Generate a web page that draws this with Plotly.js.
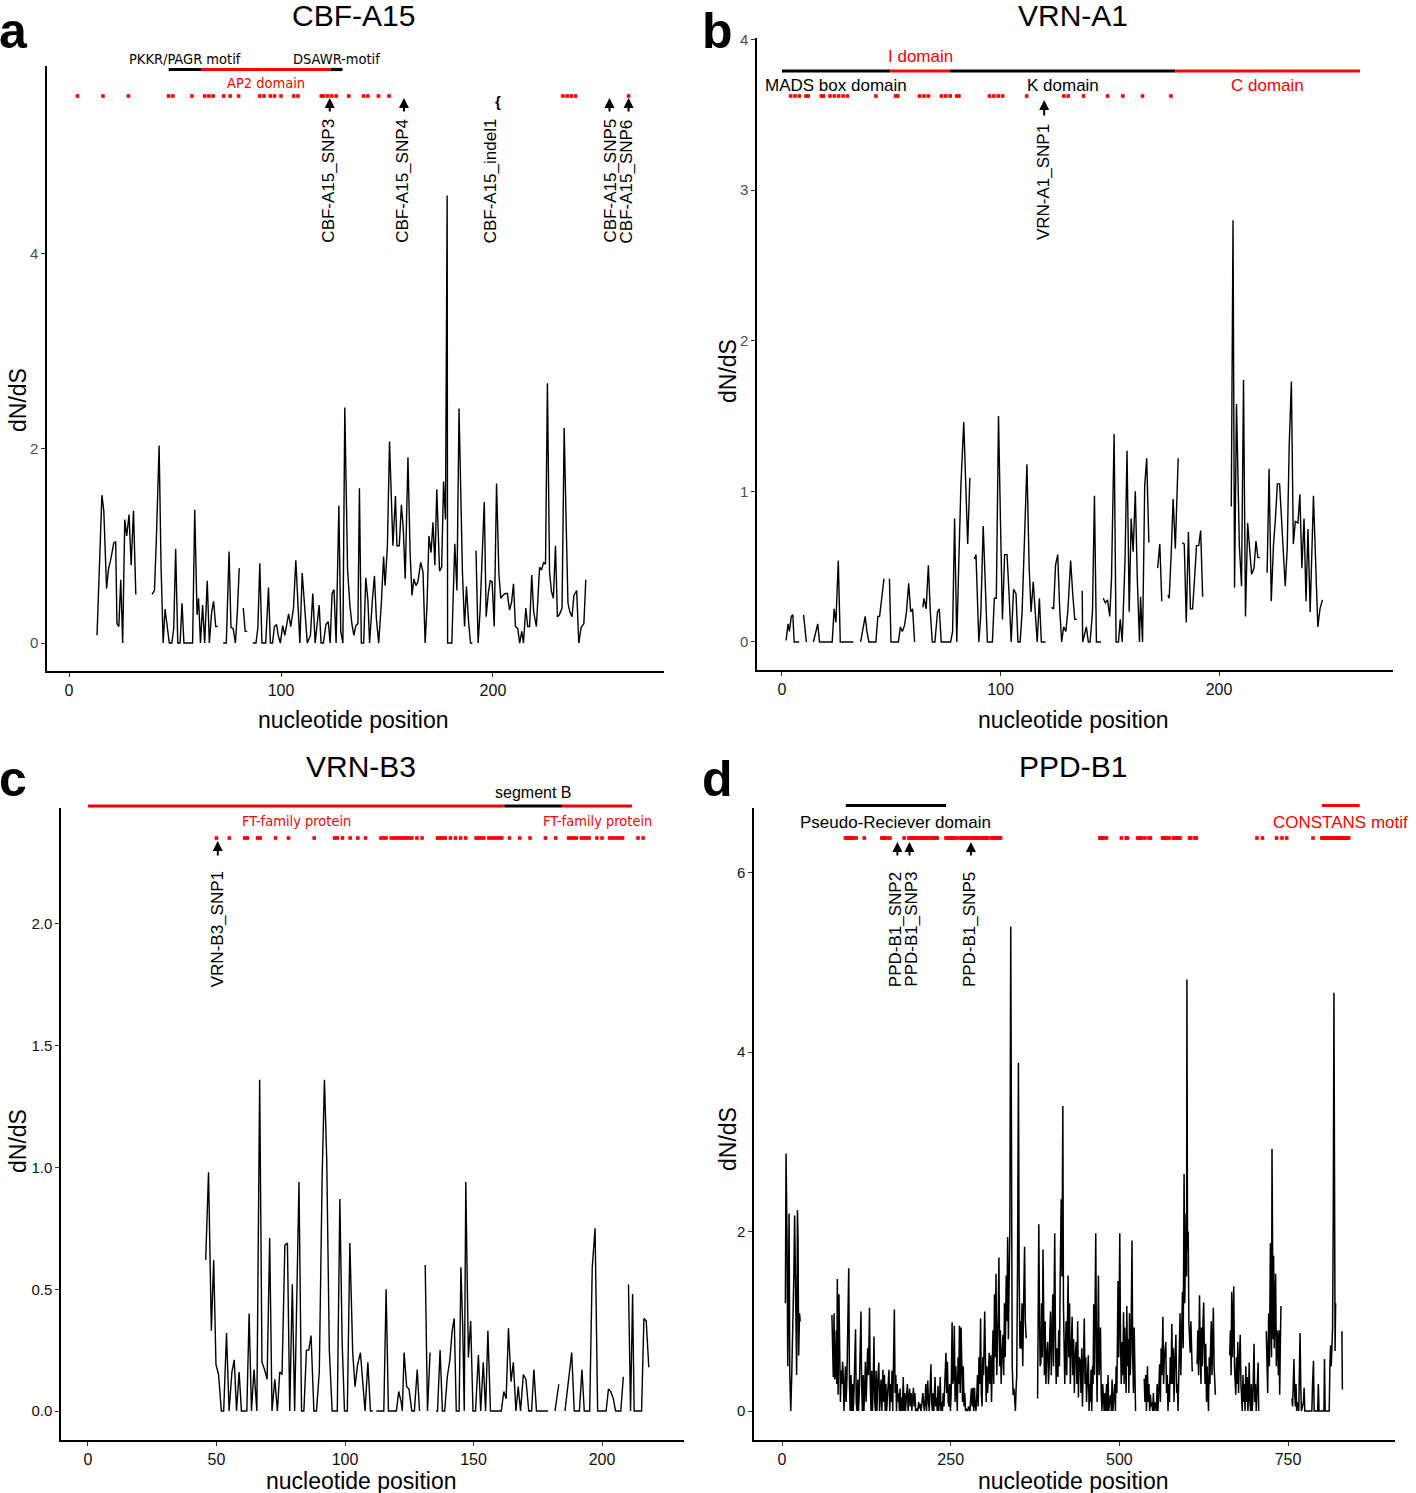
<!DOCTYPE html>
<html><head><meta charset="utf-8">
<script src="https://cdn.plot.ly/plotly-3.0.1.min.js"></script>
<style>body{margin:0;background:#fff}#chart{width:1416px;height:1493px}</style>
</head><body><div id="chart"></div>
<script>
// ---------------- DATA ----------------
// dN/dS sliding values: [nucleotide position, dN/dS]; null = gap
const cbfA15Points = [[13.2,0.08],[15.5,1.52],[16.4,1.36],[17.7,0.56],[18.6,0.76],[19.7,0.86],[21.1,1.03],[22,1.04],[22.6,0.2],[23.5,0.17],[24.4,0.65],[25.3,0],[26.3,1.27],[27.2,1.1],[28.3,1.32],[29.3,0.8],[30.4,1.36],[31.5,0.5],null,
[39.1,0.5],[40.3,0.54],[41.2,1.07],[42.5,2.03],[43.4,0.8],[44.4,0],[45.3,0.35],[46.2,0.19],[47.3,0],[48.5,0],[49.4,0.15],[50.3,0.97],[51.3,0],[52.4,0],[53.3,0.41],[54.2,0],[56,0],[58.3,0],[59.3,1.37],[60.4,0.29],[61.1,0.46],[62,0],[63,0.39],[64,0],[65.2,0.64],[66.2,0],[67.3,0.32],[68.2,0.43],[69.2,0.17],[70.1,0.17],null,
[72.7,0],[74.2,0],[75.5,0.94],[76.4,0.16],[77.4,0.15],[78.5,0],[79.4,0.32],[80.3,0.77],null,[82.2,0.36],[83.1,0.12],[84.1,0.12],null,
[86.7,0],[88.2,0],[89.1,0.16],[90,0.82],[91,0],[92.8,0],[94.1,0.57],[95,0],[96,0],[96.9,0.17],[97.9,0.19],[98.8,0.07],[99.7,0],[100.8,0.18],[101.8,0.08],[102.7,0.2],[103.6,0.3],[104.6,0.17],[105.9,0.36],[107,0.85],[107.7,0.49],[108.9,0],[110,0.72],[111,0.39],[112.4,0],[113.9,0.08],[115,0.51],[116.1,0],[117,0.19],[118,0.39],[118.9,0],[120,0],[121.2,0.19],[122.3,0.22],[123.2,0],[124.1,0.51],[125,0.55],[126,0],[127.3,1.41],[128.2,0.12],[129.2,0],[130.1,2.42],[131.4,0.76],[132.5,0.39],[133.5,0.19],[134.4,0.08],[135.3,0.18],[136.3,0.2],[137,1.59],[137.9,0],[139,0],[140,0.67],[141,0.44],[141.8,0],[143.1,0.44],[144.1,0.69],[145,0.25],[146.1,0],[147.4,0.43],[148.4,0.89],[149.1,0.59],[150.2,1],[151.2,2.07],[152.1,1.46],[152.8,1],[154,1.51],[154.7,1],[155.8,1],[156.8,1.42],[157.7,1.17],[158.6,0.66],[159.9,1.91],[160.9,0.93],[161.8,0.49],[162.7,0.66],[163.7,0.59],[164.6,0.63],[165.9,0.83],[167,0.73],[168,0],[168.9,0.39],[169.8,1.1],[170.8,0.93],[171.7,1.24],[172.6,0.8],[173.5,1.58],[174.8,0.74],[175.8,0.78],[176.7,1.66],[177.6,1.27],[178.4,4.6],[178.6,0],[180.6,0],[182,1.02],[183,0.54],[184,2.41],[184.7,1.78],[185.6,0.73],[186.6,0.17],[187.5,0.58],[188.4,0.25],[189.4,0],[190.3,0],null,
[192,0.95],[193,0],[193.9,0.32],[195,0.95],[195.9,1.45],[196.8,0.27],[197.8,0.51],[198.7,0.64],[199.6,0.63],[200.6,0.17],[201.7,1.64],[202.8,0.71],[203.7,0.46],[204.7,0.49],[205.8,0.51],[206.8,0.51],[207.8,0.34],[208.8,0.42],[209.7,0.61],[210.6,0.17],[211.7,0.15],[212.6,0],[213.6,0.12],[214.4,0],[215.5,0.36],[216.4,0.17],[217.3,0.17],[218.3,0.7],[219.2,0.32],[220.5,0.17],[221.4,0.59],[222,0.78],[222.9,0.75],[223.9,0.83],[224.8,0.81],[225.7,2.67],[226.7,0.73],[227.6,0.53],[228.5,0.46],[229.5,1],[230.4,0.27],[231.3,0.29],[232.6,0.36],[233.6,2.21],[234.5,1.27],[235.4,0.41],[236.3,0.32],[237.3,0.27],[238.2,0.49],[239.5,0.54],[240.5,0],[241.6,0.16],[242.9,0.2],[243.8,0.65]];

const vrnA1Points = [[1.9,0.01],[2.8,0.12],[3.4,0.07],[4.3,0.17],[5,0.18],[5.6,0],[7.9,0],null,[9.9,0.18],[11.2,0],null,[14.4,0],[16.4,0.12],[17.2,0],[23,0],[23.9,0.22],[24.7,0.13],[25.8,0.54],[26.7,0],[32.7,0],null,
[36,0],[38.1,0.17],[38.9,0.07],[39.8,0],[43,0],[43.9,0.17],[44.7,0.17],[45.8,0.33],[46.7,0.42],null,[49.2,0.42],[49.9,0],[53.3,0],[54.2,0.1],[55.1,0.07],[56.1,0.11],[57,0.2],[58,0.39],[58.9,0.2],[59.8,0.22],[60.7,0],null,
[64.5,0.23],[65,0.29],[66,0.22],[67,0.51],[67.9,0.2],[68.8,0],[70,0],[71.2,0.2],[72,0.22],[72.9,0],[77.2,0],[78.1,0.07],[79,0.82],[80,0],[80.9,0.51],[81.9,1.04],[83.2,1.46],[84.1,1.08],[85,0.65],[86,1.09],null,
[88.1,0.55],[88.8,0.58],[90.1,0],[91,0.18],[92.1,0.77],[93.1,0.33],[94,0],[96.3,0],[97.2,0.29],[98.1,0.29],[99.1,1.5],[100,0.8],[100.9,0.15],[101.9,0.58],[103,0.58],[103.9,0.33],[104.9,0],[106,0.35],[107.1,0.32],[108,0],[109,0],[109.9,0.2],[111.2,0.75],[112.1,1.18],[113.1,0.51],[114,0.2],[115,0.4],[115.9,0.2],[116.8,0],[117.8,0.29],[118.7,0],[120.6,0],null,
[123.4,0.23],[124.3,0.22],[125.2,0.51],[126.2,0.58],[127.1,0.22],[128,0],[128.9,0.1],[129.9,0.07],[130.8,0.2],[132.1,0.54],[133.1,0.31],[134,0.15],[134.9,0.15],null,
[137.4,0.34],[137.6,0],[139.3,0.1],[140.2,0],[141,0],[142.1,0.2],[143,0.97],[143.9,0],[146,0],null,[147,0.29],[148,0.26],[149,0.28],[150,0.17],[150.8,0.42],[152,1.38],[152.9,0],[154,0],[154.8,0.15],[155.7,0],[157,0.55],[157.9,1.27],[158.9,0.2],[159.8,0.82],[160.7,0.6],[161.7,1],[162.6,0.42],[163.6,0],[164.1,0.3],[165,0],[166,1.04],[166.9,1.22],[167.9,0.66],null,
[171.9,0.49],[172.9,0.65],[173.8,0.27],null,[176.6,0.31],[177.2,0.29],[178.1,0.58],[179,0.95],[180,0.62],[181.3,1.22],null,
[183.2,0.66],[184.1,0.65],[185,0.13],[186,0.73],[186.9,0.22],[187.9,0.22],[188.8,0.42],[189.7,0.64],[190.7,0.64],[191.6,0.74],[192.5,0.3],null,
[205.6,0.9],[206.4,2.8],[207.1,0.36],[208,1.58],[209.3,0.64],[210.3,0.37],[211.2,1.74],[212.1,0.17],[213.1,0.79],[214,0.6],[214.9,0.45],[216,0.49],[216.9,0.67],[217.8,0.56],[218.7,0.56],null,
[222,0.46],[222.9,1.15],[223.9,0.27],[224.9,0.64],[225.8,0.82],[226.7,1.05],[227.7,1.05],[229,0.66],[230.3,0.37],[231.2,0.62],[232.1,1.3],[233.1,1.73],[234,0.65],[234.9,0.8],[236.1,0.79],[237,0.98],[237.9,0.49],[238.9,0.82],[239.8,0.27],[240.7,0.75],[241.7,0.2],[243.2,0.97],[244.3,0.51],[245.2,0.1],[246.2,0.22],[247.3,0.28]];

const vrnB3Points = [[45.8,0.62],[46.9,0.98],[48,0.33],[48.9,0.62],[49.8,0.19],[50.8,0.15],[51.9,0],[52.8,0],[53.9,0.32],[54.9,0],[56,0.16],[56.9,0.21],[57.8,0],[58.8,0.16],[59.7,0],[61.8,0],[62.7,0.4],[63.6,0],[64.6,0.17],[65.7,0],[66.8,1.36],[67.7,0.2],[68.7,0.17],[69.7,0.13],[70.7,0.71],[71.6,0],[72.7,0.13],[73.7,0],[74.6,0.16],[75.5,0.15],[76.6,0.68],[77.6,0.69],[78.5,0],[79.5,0.52],[80.4,0],[81.3,0.52],[82.1,0.94],[83.1,0],[84,0],[85,0.25],[85.9,0.25],[86.8,0.31],[87.9,0],[88.9,0],[90,0.16],[91.1,0.96],[92,1.36],[92.9,1.03],[93.9,0.25],[95,0],[97,0],[98,0.87],[98.9,0.28],[99.8,0],[100.9,0],[101.9,0.69],[103,0.24],[103.9,0.1],[104.9,0.19],[106,0.24],[106.9,0.13],[107.8,0],[108.9,0.2],[109.9,0],[110.8,0],null,
[112.2,0],[114.3,0],[115.1,0],[116,0.5],[116.9,0],[119,0],[120,0],[120.9,0.08],[121.8,0.04],[122.3,0],[123,0.24],[124,0.1],[124.9,0.09],[126,0],[127,0],[128.1,0.17],[129,0],null,[131.2,0.6],[132.1,0],[133.1,0.24],null,
[135.4,0],[136,0],[137,0.25],[137.9,0],[138.8,0],[139.8,0.14],[140.8,0.21],[141.7,0.33],[142.5,0.38],[143.3,0],[144.4,0],[145.1,0.59],[145.8,0.35],[146.4,0],[147,0.94],[148,0.22],[148.9,0.37],[149.8,0],[150.8,0],[151.9,0.23],[152.8,0],[153.8,0.2],[154.7,0],[155.6,0.33],[156.6,0],[160.8,0],[161.8,0.08],[162.7,0.05],[163.6,0.34],[164.6,0.12],[165.5,0.2],[166.5,0],[167.4,0.1],[168.3,0],[169.4,0.15],[170.4,0.13],[171.5,0],[172.6,0],[173.5,0.17],[174.5,0],[179,0],null,
[181.7,0],[183.2,0.11],null,[185.6,0],[186.8,0.11],[188.2,0.24],[189.2,0],[191.2,0],[192.2,0.17],[193.1,0],[195.2,0],[196.2,0.59],[197.3,0.75],[198.3,0],[201.6,0],[202.5,0.09],[203.4,0.08],[204.4,0.05],[205.3,0],[207.3,0],[208.3,0.14],null,
[210.3,0.52],[211.1,0],[211.9,0.48],[212.5,0],[215.4,0],[216.3,0.38],[217.2,0.37],[218.2,0.18]];

const ppdB1Points = [[5,1.2],[6,2.87],[7.5,1.9],[8.5,0.5],[9.5,1.25],[10.5,2.2],[11.5,0.44],[13,0],[14.5,0.42],[16,0.9],[17.5,1.5],[18.7,2.18],[19.8,1.3],[20.5,1.01],[21.7,0.4],[22.9,2.24],[23.8,1.9],[24.7,0.62],[26,1.09],[27,1.0],null,
[74,1.07],[75,0.62],[76,0.38],[77.2,1.09],[78.2,0.35],[79.2,0.4],[80.4,0.9],[81.2,0.3],[82,1.47],[83.2,0.18],[84.4,1.3],[85.5,0.45],[86.6,0.1],[87.6,0.45],[88.7,0.3],[89.8,0.55],[90.8,0.4],[91.9,0],[93,0.25],[94,0.5],[95,0.1],[96.2,0.35],[97.2,0.8],[98.9,1.59],[100,0.3],[101,0],[102.2,0.4],[103.4,0],[104.5,0.3],[105.6,0],[106.6,0.2],[107.7,0.65],[109,0.91],[110,0.1],[111.2,0],[112.3,0.35],[113.4,0],[114.5,0.2],[115.6,0.7],[117,1.11],[118,0.3],[119.1,0],[120.3,0.4],[121.4,0],[122.5,0.25],[123.6,0.55],[124.7,0.1],[125.8,0.5],[127,0.7],[128.1,0.4],[129.7,1.15],[130.8,0.3],[131.9,0],[133,0.45],[134.1,0],[135.2,0.3],[136.3,0.83],[137.4,0.1],[138.5,0],[139.6,0.45],[140.7,0],[141.8,0.3],[143.5,0.54],[144.6,0],[145.7,0.2],[146.8,0.35],[148,0],[149.6,0.46],[150.7,0.1],[151.8,0.4],[152.9,0],[154,0.3],[155.1,0],[156.2,0.2],[157.3,0.35],[158.6,0.46],[159.7,0],[160.8,0.3],[161.9,0.1],[163,0.45],[164.1,0],[165.2,0.6],[166.5,1.13],[167.6,0.2],[168.7,0.4],[169.7,0],[170.7,0.3],[171.8,0.1],[172.9,0.2],[174,0],[175.1,0.25],[176.2,0],[177.3,0.15],[178.4,0],[179.7,0.38],[180.8,0],[181.9,0.2],[183,0],[184.1,0.15],[185.8,0.3],[186.9,0],[188,0.1],[189.1,0.25],[190.2,0.05],[191.3,0.2],[192.4,0],[193.5,0.18],[194.8,0.26],[195.9,0.05],[197,0.2],[198.1,0],[199.2,0.02],[200.3,0.02],[201.4,0],[202.5,0.1],[203.6,0.03],[204.7,0.08],[205.8,0],[206.9,0.05],[208.7,0.2],[209.8,0.03],[210.9,0],[212,0.1],[213.1,0.3],[214.2,0],[216,0.34],[217.1,0.1],[218.2,0],[219.3,0.2],[220.7,0.52],[221.8,0.1],[222.9,0],[224,0.2],[225.1,0],[226.8,0.38],[227.9,0.05],[229,0.15],[230.1,0],[231.2,0.28],[232.3,0],[233.4,0.1],[234.5,0.38],[235.6,0],[236.7,0.1],[237.8,0],[238.9,0.2],[240,0.05],[241.5,0.35],[243,0.65],[244.1,0.2],[245.2,0.55],[246.3,0.1],[247.4,0.05],[248.5,0.3],[249.6,0],[250.7,0.2],[252.1,0.99],[253.2,0.3],[254.3,0.4],[255.4,0.95],[256.5,0.1],[257.6,0.5],[258.7,0.05],[259.8,0],[260.9,0.6],[262,0.3],[263,0.95],[264.1,0.2],[265.4,0.93],[266.5,0.3],[267.6,0.1],[268.7,0.5],[269.8,0.05],[270.9,0.2],[272,0],[273.1,0.02],[274.2,0],[275.3,0],[276.4,0.05],[277.5,0],[278.6,0],[279.7,0.15],[280.8,0.25],[281.9,0.05],[283,0.26],[284.1,0],[285.3,0.26],[286.4,0.05],[287.5,0],[288.6,0.15],[289.7,0.4],[290.8,0.05],[291.9,0.6],[293,0.3],[294.3,1.03],[295.4,0.2],[296.5,0.05],[297.6,0.6],[298.7,0.4],[300.4,1.11],[301.5,0.3],[302.6,0.1],[303.7,0.5],[304.8,0.2],[305.9,0.4],[307,0.65],[308.1,0.3],[309.4,0.62],[310.5,0.1],[311.6,0.5],[312.7,0.9],[313.8,0.3],[314.9,1.3],[316,0.6],[317.2,1.53],[318.3,0.4],[319.4,0.7],[320.5,1.1],[321.5,1.71],[322.6,0.5],[323.7,0.9],[324.8,0.3],[325.9,0.6],[327.5,0.85],[328.6,0.4],[329.7,1.2],[330.8,0.6],[332.3,1.51],[333.4,1.0],[334.4,1.94],[335.5,0.8],[336.6,1.5],[337.7,2.05],[339,5.4],[340.1,2.9],[341.2,0.5],[342.6,0.18],[343.7,0.25],[344.8,0.15],[345.9,0],[346.8,0.22],[347.9,0.4],[349.1,1.6],[350.4,3.88],[351.5,1.5],[352.6,0.7],[353.7,1.0],[354.6,0.69],[355.7,1.2],[356.8,0.5],[357.9,1.1],[359.5,1.83],[360.6,1.0],[361.9,0.81],null,
[378.8,0.14],[380.6,2.08],[381.7,1.0],[382.6,0.5],[383.6,0.54],[384.7,1.2],[385.8,0.6],[386.8,1.8],[387.8,0.97],[388.9,0.4],[390,1.0],[391.1,0.3],[392.1,0.6],[393.8,0.77],[394.9,0.3],[396,0.5],[397,0.9],[398,1.11],[399.1,0.4],[400.2,0.7],[401.3,1.3],[402.4,0.5],[403.3,1.1],[404.2,1.98],[405.3,0.8],[406.4,0.3],[407.5,0.7],[409,0.38],[410.1,0.9],[411.2,0.5],[412.3,1.5],[413.8,2.36],[414.9,1.5],[416.2,3.4],[417.1,1.2],[418,0.73],[419.1,0.3],[420,0.62],[421,1.0],[422,0.4],[423,0.9],[424,1.51],[425.1,0.6],[426.2,1.2],[427.3,0.3],[428.4,0.8],[430,1.05],[431.1,0.4],[432.2,0.8],[433.3,0.2],[434.4,0.6],[436,0.77],[437.1,0.3],[438.2,1.0],[439.3,0.15],[440.4,0.6],[442,0.56],[443.1,0.2],[444.2,0.7],[445.3,0.05],[446.4,0.5],[448,1.03],[449.1,0.3],[450.2,0.6],[451.3,0.1],[452.4,0.45],[454,0.62],[455.1,0],[456.2,0.3],[457,0.1],[458,0.46],[459.1,0],[460.2,0.5],[461,0.3],[462,1.19],[463.1,0.4],[464,0.9],[465,1.98],[466.1,0.6],[467,0.1],[468,0.8],[469,1.51],[470,0.4],[471.1,0.7],[472,0.93],[473.1,0.2],[474.2,0],[475.3,0.3],[476.4,0],[477.5,0],[478.6,0.2],[479.7,0],[481,0.3],[482.1,0],[483.2,0.4],[484.3,0],[485.4,0.1],[487,0.18],[488.1,0],[489.2,0.35],[490.3,0],[491.4,0.2],[493,0.3],[494.1,0],[495.2,0.5],[496.3,0.2],[497,0.8],[498,1.45],[499.1,0.6],[500.6,1.98],[501.7,0.8],[502.8,0.3],[504,0.77],[505.1,0.4],[506.2,1.1],[507,0.3],[508,0.93],[509.1,0.5],[510,0.2],[511,1.17],[512.1,0.5],[513.2,0.8],[514.1,0.2],[515,1.09],[516.1,0.4],[517.2,0.7],[518.7,1.9],[519.8,0.6],[520.9,0.2],[522,0.93],[523.1,0.3],[524,0],null,
[536.8,0.36],[537.9,0.1],[539,0.4],[540.1,0],[541.6,0.5],[542.7,0.1],[543.8,0.3],[544.9,0],[546,0.18],[547.1,0.05],[548.2,0.1],[549.3,0],[550.4,0.2],[551.5,0],[552.6,0.1],[553.7,0],[554.8,0],[556,0.3],[557.1,0],[558.2,0.2],[559.7,0.52],[560.8,0.1],[561.9,0.7],[563,0.4],[564.5,1.05],[565.6,0.3],[566.7,0.6],[568.8,0.77],[569.9,0.2],[571,0.4],[572.1,0],[573.2,0.3],[574.3,0.1],[575.4,0.6],[576.5,0.3],[577.8,0.97],[578.9,0.3],[580,0.7],[581,0.1],[582.1,0.5],[583.8,0.85],[584.9,0.2],[586,0.3],[587,0],[588.1,0.6],[589.9,1.09],[591,0.4],[592.1,0.9],[593.5,1.33],[594.6,0.7],[595.9,2.64],[596.9,1.2],[597.8,2.0],[598.9,2.2],[599.6,1.5],[600.1,4.81],[601,1.8],[602,2.0],[603,1.0],[604,0.8],[605,0.65],[606,1.0],[607,0.5],[608,0.44],null,
[615.2,0.52],[616.3,0.9],[617.4,0.4],[618.8,1.29],[619.9,0.6],[621,0.3],[621.8,0.93],[622.9,0.5],[624,1.0],[625,1.21],[626.1,0.6],[627,0.3],[628,0.75],[629.1,0.1],[630,0.5],[631,0.34],[632.1,0],[633.2,0.6],[634.3,0.3],[635.1,0.69],[636.2,1.0],[637.3,0.4],[638.4,0.8],[639.3,1.15],[640.4,0.5],[641.5,0.3],[642.3,0.18],null,
[663.5,0.62],[664.6,0.9],[665.6,0.4],[666.5,1.33],[667.6,0.6],[668.6,1.0],[669.5,1.39],[670.6,0.5],[671.6,0.3],[672.5,0.18],[673.6,0.6],[674.6,0.3],[675.5,0.77],[676.6,0.2],[677.6,0.5],[679.1,0.85],[680.2,0.3],[681.2,0.1],[682.1,0],[683.2,0.4],[684.2,0.1],[685.3,0.3],[686.3,0],[687.4,0.5],[688.4,0.1],[689.4,0.38],[690.5,0],[691.5,0.2],[692.4,0.54],[693.5,0.1],[694.5,0],[695.6,0.3],[696.6,0],[697.7,0.1],[698.7,0.45],[699.6,0.75],[700.7,0.1],[701.7,0.3],[702.8,0],[703.8,0.2],[704.8,0.4],[705.7,0.54],[706.5,0],null,
[717.7,0.89],[718.8,0.4],[719.8,0.2],[720.5,0.7],[721.3,1.09],[722.4,0.5],[723.1,1.2],[723.8,1.87],[724.8,1.0],[725.5,0.6],[726.2,2.92],[727.1,1.4],[727.9,0.8],[728.6,1.73],[729.6,0.7],[730.6,1.2],[731.6,1.53],[732.6,0.5],[733.6,0.9],[734.6,0.81],[735.6,0.4],[736.6,0.9],[737.6,0.18],[738.5,0.7],[739.5,1.17],null,
[755.7,0.14],[756.7,0.05],[757.7,0.3],[758.7,0.58],[759.8,0.2],[760.8,0.05],[761.8,0.3],[762.8,0],[763.9,0.1],[764.9,0],[765.9,0],[766.9,0.5],[767.8,0.87],[768.8,0.3],[769.8,0],[772.9,0.1],[773.8,0.26],[774.8,0],[785.3,0],[786.3,0.3],[787.7,0.56],[788.7,0],[793.9,0],[794.9,0.3],[795.9,0],[803.2,0],[804,0.58],[805,0],[811,0],[812,0.5],[813,0.73],[814,0.5],[815,0.8],[816,0.93],[817,2.2],[818,4.66],[818.9,2.5],[819.7,0.67],[820.5,1.2],null,[829.8,0.89],[830.5,0.24]];

// red marks (polymorphic sites) along the top
const cbfA15Dots = [4,16,28,47,49,58,64,66,68,73,76,80,90,92,95,97,100,106,108,119,120,122,124,126,132,139,141,146,151,233,235,237,239,264];
const vrnA1Dots = [4,6,8,11,12,18,19,22,24,26,28,30,43,52,53,63,65,67,73,75,77,80,81,95,97,99,101,112,129,131,138,149,156,165,178];
const vrnB3Dots = [50,55,61,62,66,67,73,78,88,96,97,99,102,105,108,114,115,116,118,119,120,121,122,123,124,125,126,128,130,136,137,138,139,141,143,145,147,151,152,153,154,156,157,158,159,160,161,164,168,172,178,182,187,188,189,190,192,193,194,195,198,200,203,204,205,206,207,208,214,216];
const ppdB1Dots = [94,96,98,100,102,104,106,110,122,148,150,152,156,160,181,188,190,192,194,196,198,200,204,206,208,210,212,214,216,220,222,224,226,228,230,243,245,247,249,251,253,255,257,260,265,267,269,271,273,275,277,281,283,285,287,289,291,295,297,299,301,303,305,310,312,314,316,318,320,322,324,471,473,475,477,481,503,510,512,527,529,531,533,538,544,546,564,566,568,570,574,580,582,584,586,588,590,604,606,612,614,704,712,733,741,748,787,800,802,804,806,808,810,812,814,816,818,820,822,824,826,828,830,832,834,836,838,840];

// protein domains: name, start, end
const cbfA15DomainNames = ['PKKR/PAGR motif','AP2 domain','DSAWR-motif'];
const cbfA15DomainStart = [47,62.3,123.4];
const cbfA15DomainEnd   = [62.3,123.4,129];
const vrnA1DomainNames = ['MADS box domain','I domain','K domain','C domain'];
const vrnA1DomainStart = [0,49.6,76.8,180];
const vrnA1DomainEnd   = [49.6,76.8,180,264.5];
const vrnB3DomainNames = ['FT-family protein','segment B','FT-family protein'];
const vrnB3DomainStart = [0,162,184.4];
const vrnB3DomainEnd   = [162,184.4,211.7];
const ppdB1DomainNames = ['Pseudo-Reciever domain','CONSTANS motif'];
const ppdB1DomainStart = [94.6,800];
const ppdB1DomainEnd   = [243,856];

// variant sites (arrow position, label position)
const cbfA15SnpNames = ['CBF-A15_SNP3','CBF-A15_SNP4','CBF-A15_SNP5','CBF-A15_SNP6'];
const cbfA15SnpPos = [123,158,255,264];
const cbfA15SnpLabelPos = [122,157,255,263];
const cbfA15IndelNames = ['CBF-A15_indel1'];
const cbfA15IndelPos = [200];
const vrnA1SnpNames = ['VRN-A1_SNP1'];
const vrnA1SnpPos = [120];
const vrnA1SnpLabelPos = [119.5];
const vrnB3SnpNames = ['VRN-B3_SNP1'];
const vrnB3SnpPos = [50.5];
const vrnB3SnpLabelPos = [50.3];
const ppdB1SnpNames = ['PPD-B1_SNP2','PPD-B1_SNP3','PPD-B1_SNP5'];
const ppdB1SnpPos = [171,189,280];
const ppdB1SnpLabelPos = [168.5,191.5,278];

const panelTitles = ['CBF-A15','VRN-A1','VRN-B3','PPD-B1'];
const panelLetters = ['a','b','c','d'];

// ---------------- LAYOUT / STYLE ----------------
const W = 1416, H = 1493;
const fx = p => p / W, fy = p => 1 - p / H;
const SANS = 'Liberation Sans, Arial, sans-serif';
const NARROW = 'DejaVu Sans Condensed, Liberation Sans, sans-serif';

const panels = [
  {key:'a', xa:'x', ya:'y', xpx:[47,664], ypx:[66,671], xr:[-10.4,280.7], yr:[-0.287,5.93],
   xt:[0,100,200], yt:[0,2,4], yfmt:'', tickCol:'#4d4d4d', titleY:15, titleX:353, letterX:-2, letterY:31,
   xTitleY:720, yTitleX:18, yTitleY:400, lw:1.4,
   points:cbfA15Points, dots:cbfA15Dots, dotY:96,
   dom:{names:cbfA15DomainNames,s:cbfA15DomainStart,e:cbfA15DomainEnd},
   domColors:['black','red','black'], domLineY:69.5, domLabelY:[59,83,59], domFont:[NARROW,NARROW,NARROW], domSize:[14.5,14.5,14.5],
   snps:{names:cbfA15SnpNames,pos:cbfA15SnpPos,lab:cbfA15SnpLabelPos}, arrowHead:98, arrowTail:113, labelBottom:244},
  {key:'b', xa:'x2', ya:'y2', xpx:[757,1393], ypx:[38,670], xr:[-11.4,279.6], yr:[-0.186,4.01],
   xt:[0,100,200], yt:[0,1,2,3,4], yfmt:'', tickCol:'#4d4d4d', titleY:15, titleX:1073, letterX:701, letterY:31,
   xTitleY:720, yTitleX:728, yTitleY:371, lw:1.4,
   points:vrnA1Points, dots:vrnA1Dots, dotY:96,
   dom:{names:vrnA1DomainNames,s:vrnA1DomainStart,e:vrnA1DomainEnd},
   domColors:['black','red','black','red'], domLineY:71, domLabelY:[85,56,85,85], domFont:[SANS,SANS,SANS,SANS], domSize:[17,17,17,17],
   snps:{names:vrnA1SnpNames,pos:vrnA1SnpPos,lab:vrnA1SnpLabelPos}, arrowHead:100, arrowTail:117, labelBottom:241},
  {key:'c', xa:'x3', ya:'y3', xpx:[61,684], ypx:[808,1440], xr:[-10.5,231.9], yr:[-0.119,2.476],
   xt:[0,50,100,150,200], yt:[0,0.5,1,1.5,2], yfmt:'.1f', tickCol:'#111', titleY:767, titleX:361, letterX:-2, letterY:779,
   xTitleY:1481, yTitleX:18, yTitleY:1141, lw:1.4,
   points:vrnB3Points, dots:vrnB3Dots, dotY:838,
   dom:{names:vrnB3DomainNames,s:vrnB3DomainStart,e:vrnB3DomainEnd},
   domColors:['red','black','red'], domLineY:806, domLabelY:[821,792,821], domFont:[NARROW,SANS,NARROW], domSize:[14.5,16,14.5],
   snps:{names:vrnB3SnpNames,pos:vrnB3SnpPos,lab:vrnB3SnpLabelPos}, arrowHead:841, arrowTail:857, labelBottom:988},
  {key:'d', xa:'x4', ya:'y4', xpx:[754,1395], ypx:[808,1440], xr:[-41.5,908.5], yr:[-0.323,6.72],
   xt:[0,250,500,750], yt:[0,2,4,6], yfmt:'', tickCol:'#111', titleY:767, titleX:1073, letterX:701, letterY:779,
   xTitleY:1481, yTitleX:728, yTitleY:1139, lw:1.5,
   points:ppdB1Points, dots:ppdB1Dots, dotY:838,
   dom:{names:ppdB1DomainNames,s:ppdB1DomainStart,e:ppdB1DomainEnd},
   domColors:['black','red'], domLineY:805.5, domLabelY:[822,822], domFont:[SANS,SANS], domSize:[17,17],
   snps:{names:ppdB1SnpNames,pos:ppdB1SnpPos,lab:ppdB1SnpLabelPos}, arrowHead:842, arrowTail:857, labelBottom:988}
];

const traces = [], shapes = [], annotations = [];
const layout = {
  width: W, height: H, margin:{l:0,r:0,t:0,b:0,pad:0},
  paper_bgcolor:'#fff', plot_bgcolor:'#fff', showlegend:false, hovermode:false,
  font:{family:SANS, color:'#000'}
};

function pixToData(p, pyPix){
  const f = (p.ypx[1] - pyPix) / (p.ypx[1] - p.ypx[0]);
  return p.yr[0] + f * (p.yr[1] - p.yr[0]);
}

panels.forEach((p, i) => {
  const xName = 'xaxis' + (i ? i + 1 : ''), yName = 'yaxis' + (i ? i + 1 : '');
  layout[xName] = {domain:[fx(p.xpx[0]), fx(p.xpx[1])], range:p.xr, anchor:p.ya,
    showgrid:false, zeroline:false, showline:true, linecolor:'#000', linewidth:2,
    ticks:'outside', ticklen:4, tickwidth:1, tickcolor:'#333', tickvals:p.xt,
    tickfont:{family:SANS, size:16, color:'#111'}, fixedrange:true};
  layout[yName] = {domain:[fy(p.ypx[1]), fy(p.ypx[0])], range:p.yr, anchor:p.xa,
    showgrid:false, zeroline:false, showline:true, linecolor:'#000', linewidth:1.6,
    ticks:'outside', ticklen:4, tickwidth:1, tickcolor:'#333', tickvals:p.yt, tickformat:p.yfmt,
    tickfont:{family:SANS, size:15, color:p.tickCol}, fixedrange:true};

  // dN/dS line
  traces.push({type:'scatter', mode:'lines', xaxis:p.xa, yaxis:p.ya,
    x:p.points.map(d => d ? d[0] : null), y:p.points.map(d => d ? d[1] : null),
    connectgaps:false, line:{color:'#000', width:p.lw}, hoverinfo:'skip'});
  // red site marks
  const dy = pixToData(p, p.dotY);
  traces.push({type:'scatter', mode:'markers', xaxis:p.xa, yaxis:p.ya, cliponaxis:false,
    x:p.dots, y:p.dots.map(() => dy), marker:{color:'#ff0000', size:3.6, symbol:'square'}, hoverinfo:'skip'});

  // domains
  p.dom.names.forEach((nm, k) => {
    shapes.push({type:'line', xref:p.xa, yref:'paper', x0:p.dom.s[k], x1:p.dom.e[k],
      y0:fy(p.domLineY), y1:fy(p.domLineY), line:{color:p.domColors[k], width:3.2}});
    annotations.push({xref:p.xa, yref:'paper', x:(p.dom.s[k] + p.dom.e[k]) / 2, y:fy(p.domLabelY[k]),
      text:nm, showarrow:false, xanchor:'center', yanchor:'middle',
      font:{family:p.domFont[k], size:p.domSize[k], color:p.domColors[k]}});
  });

  // SNP arrows + labels
  p.snps.names.forEach((nm, k) => {
    annotations.push({xref:p.xa, yref:'paper', x:p.snps.pos[k], y:fy(p.arrowHead), text:'',
      showarrow:true, ax:0, ay:p.arrowTail - p.arrowHead, arrowhead:2, arrowsize:1, arrowwidth:2,
      arrowcolor:'#000', standoff:0, startstandoff:0});
    annotations.push({xref:p.xa, yref:'paper', x:p.snps.lab[k], y:fy(p.labelBottom), text:nm,
      textangle:-90, showarrow:false, xanchor:'center', yanchor:'bottom', borderpad:0,
      font:{family:SANS, size:17, color:'#000'}});
  });

  // panel title
  annotations.push({xref:'paper', yref:'paper', x:fx(p.titleX), y:fy(p.titleY), text:panelTitles[i],
    showarrow:false, xanchor:'center', yanchor:'middle', borderpad:0, font:{family:SANS, size:30, color:'#000'}});
  // panel letter
  annotations.push({xref:'paper', yref:'paper', x:fx(p.letterX), y:fy(p.letterY),
    text:'<b>' + panelLetters[i] + '</b>', showarrow:false, xanchor:'left', yanchor:'middle', borderpad:0,
    font:{family:SANS, size:50, color:'#000'}});
  // axis titles
  annotations.push({xref:'paper', yref:'paper', x:fx(p.titleX), y:fy(p.xTitleY), text:'nucleotide position',
    showarrow:false, xanchor:'center', yanchor:'middle', font:{family:SANS, size:23, color:'#000'}});
  annotations.push({xref:'paper', yref:'paper', x:fx(p.yTitleX), y:fy(p.yTitleY),
    text:'dN/dS', textangle:-90, showarrow:false, xanchor:'center', yanchor:'middle',
    font:{family:SANS, size:23, color:'#000'}});
});

// indel marker on panel a
cbfA15IndelNames.forEach((nm, k) => {
  annotations.push({xref:'x', yref:'paper', x:cbfA15IndelPos[k] + 2.5, y:fy(101), text:'<b>{</b>',
    showarrow:false, xanchor:'center', yanchor:'middle', font:{family:SANS, size:15, color:'#000'}});
  annotations.push({xref:'x', yref:'paper', x:cbfA15IndelPos[k] - 1, y:fy(244), text:nm,
    textangle:-90, showarrow:false, xanchor:'center', yanchor:'bottom', borderpad:0,
    font:{family:SANS, size:17, color:'#000'}});
});

layout.shapes = shapes;
layout.annotations = annotations;
Plotly.newPlot('chart', traces, layout, {staticPlot:true, displayModeBar:false});
</script>
</body></html>
